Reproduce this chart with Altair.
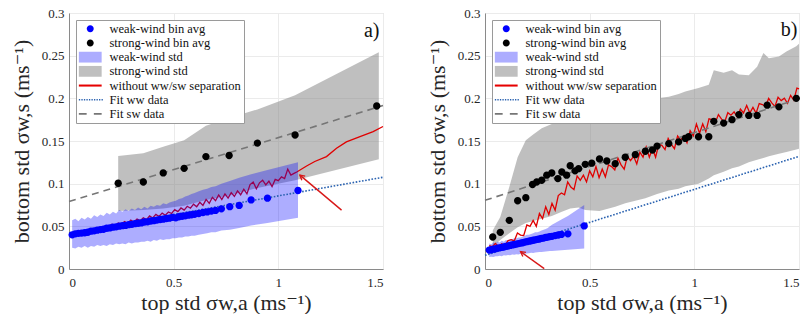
import altair as alt
import pandas as pd

FONT = "Liberation Serif, Times New Roman, DejaVu Serif, Noto Serif, serif"

SERIES = ["weak-wind bin avg", "strong-wind bin avg", "weak-wind std", "strong-wind std",
          "without ww/sw separation", "Fit ww data", "Fit sw data"]
COLORS = ["#0000ff", "#000000", "rgba(0,0,255,0.32)", "rgba(128,128,128,0.5)",
          "#e60000", "#2a62b0", "#767676"]
RED = "#e00000"
ARROW_RED = "#d81818"

X_TICKS = [0, 0.5, 1, 1.5]
Y_TICKS = [0, 0.05, 0.1, 0.15, 0.2, 0.25, 0.3]
X_TITLE = "top std σw,a (ms⁻¹)"
Y_TITLE = "bottom std σw,s (ms⁻¹)"

# ---------------- panel a ----------------
a_ww_x = [0.015, 0.03, 0.045, 0.06, 0.075, 0.09, 0.105, 0.12, 0.135, 0.15,
          0.165, 0.18, 0.195, 0.21, 0.225, 0.24, 0.255, 0.27, 0.285, 0.30,
          0.315, 0.33, 0.345, 0.36, 0.375, 0.39, 0.405, 0.42, 0.435, 0.45,
          0.465, 0.48, 0.495, 0.51, 0.525, 0.54, 0.555, 0.57, 0.585, 0.60,
          0.62, 0.64, 0.66, 0.68, 0.70, 0.728, 0.768, 0.813, 0.87, 0.948, 1.094]
a_ww_y = [0.0400, 0.0412, 0.0418, 0.0421, 0.0425, 0.0431, 0.0443, 0.0447, 0.0455, 0.0462,
          0.0466, 0.0478, 0.0481, 0.0490, 0.0494, 0.0502, 0.0508, 0.0511, 0.0520, 0.0523,
          0.0531, 0.0536, 0.0540, 0.0551, 0.0553, 0.0562, 0.0566, 0.0573, 0.0580, 0.0584,
          0.0592, 0.0596, 0.0605, 0.0600, 0.0612, 0.0618, 0.0623, 0.0631, 0.0636, 0.0642,
          0.0650, 0.0662, 0.0669, 0.0679, 0.0687, 0.0705, 0.0730, 0.0745, 0.0810, 0.0830, 0.0920]
a_ww_hi = [0.057, 0.059, 0.056, 0.060, 0.058, 0.061, 0.059, 0.063, 0.061, 0.064,
           0.062, 0.066, 0.064, 0.067, 0.065, 0.069, 0.067, 0.070, 0.068, 0.071,
           0.069, 0.072, 0.070, 0.073, 0.071, 0.074, 0.073, 0.075, 0.074, 0.077,
           0.076, 0.078, 0.079, 0.080, 0.082, 0.083, 0.085, 0.086, 0.088, 0.089,
           0.091, 0.093, 0.094, 0.096, 0.097, 0.100, 0.103, 0.107, 0.111, 0.116, 0.125]
a_ww_lo = [0.025, 0.024, 0.026, 0.025, 0.027, 0.025, 0.027, 0.026, 0.028, 0.027,
           0.028, 0.027, 0.029, 0.028, 0.030, 0.029, 0.030, 0.029, 0.031, 0.030,
           0.031, 0.031, 0.032, 0.032, 0.033, 0.032, 0.034, 0.033, 0.035, 0.034,
           0.035, 0.035, 0.036, 0.036, 0.037, 0.037, 0.038, 0.038, 0.039, 0.039,
           0.040, 0.041, 0.042, 0.043, 0.043, 0.045, 0.046, 0.048, 0.051, 0.054, 0.060]

a_sw_x = [0.235, 0.355, 0.45, 0.55, 0.654, 0.765, 0.9, 1.08, 1.47]
a_sw_y = [0.1005, 0.102, 0.1126, 0.118, 0.1317, 0.133, 0.1476, 0.157, 0.191]
a_swband_x = [0.235, 0.355, 0.45, 0.55, 0.654, 0.765, 0.9, 1.08, 1.48]
a_sw_hi = [0.1325, 0.1356, 0.1434, 0.151, 0.168, 0.177, 0.187, 0.2037, 0.254]
a_sw_lo = [0.068, 0.069, 0.071, 0.074, 0.081, 0.086, 0.095, 0.104, 0.1285]

a_red_x = [0.010, 0.025, 0.040, 0.055, 0.070, 0.085, 0.100, 0.115, 0.130, 0.145,
           0.160, 0.175, 0.190, 0.205, 0.220, 0.235, 0.250, 0.265, 0.280, 0.295,
           0.310, 0.325, 0.340, 0.355, 0.370, 0.385, 0.400, 0.415, 0.430, 0.445,
           0.460, 0.475, 0.490, 0.505, 0.520, 0.535, 0.550, 0.565, 0.580, 0.595,
           0.610, 0.625, 0.640, 0.655, 0.670, 0.685, 0.700, 0.715, 0.730, 0.745,
           0.760, 0.775, 0.790, 0.805, 0.820, 0.835, 0.850, 0.865, 0.880, 0.895,
           0.910, 0.925, 0.940, 0.955, 0.970, 0.985, 1.000, 1.015, 1.030, 1.045,
           1.060, 1.075, 1.090,
           1.135, 1.174, 1.230, 1.278, 1.325, 1.390, 1.453, 1.500]
a_red_y = [0.0405, 0.0420, 0.0412, 0.0436, 0.0425, 0.0398, 0.0445, 0.0462, 0.0448, 0.0485,
           0.0470, 0.0502, 0.0495, 0.0525, 0.0508, 0.0540, 0.0522, 0.0556, 0.0535, 0.0572,
           0.0550, 0.0585, 0.0566, 0.0600, 0.0579, 0.0622, 0.0598, 0.0640, 0.0615, 0.0655,
           0.0630, 0.0668, 0.0650, 0.0695, 0.0672, 0.0715, 0.0690, 0.0735, 0.0712, 0.0760,
           0.0730, 0.0782, 0.0745, 0.0815, 0.0770, 0.0840, 0.0800, 0.0868, 0.0815, 0.0880,
           0.0830, 0.0895, 0.0850, 0.0915, 0.0870, 0.0935, 0.0880, 0.0990, 0.1020, 0.0940,
           0.1010, 0.1040, 0.0985, 0.1030, 0.0965, 0.1050, 0.1035, 0.1080, 0.1060, 0.1170,
           0.1100, 0.1120, 0.1140,
           0.1207, 0.1260, 0.1317, 0.1415, 0.1490, 0.1550, 0.1610, 0.1670]

a_fitww_x = [0, 1.5]
a_fitww_y = [0.042, 0.1075]
a_fitsw_x = [0, 1.5]
a_fitsw_y = [0.079, 0.1915]

a_arrow_x = [1.302, 1.103]
a_arrow_y = [0.069, 0.110]
a_label = ["a)"]
a_label_x = [1.483]
a_label_y = [0.2785]

# ---------------- panel b ----------------
b_ww_x = [0.020, 0.030, 0.040, 0.050, 0.060, 0.070, 0.080, 0.090, 0.100, 0.110,
          0.120, 0.130, 0.140, 0.150, 0.160, 0.170, 0.180, 0.190, 0.200, 0.210,
          0.220, 0.230, 0.240, 0.250, 0.260, 0.270, 0.280, 0.290, 0.300, 0.310,
          0.320, 0.335, 0.350, 0.365, 0.396, 0.474]
b_ww_y = [0.0222, 0.0226, 0.0232, 0.0236, 0.0245, 0.0248, 0.0254, 0.0258, 0.0266, 0.0270,
          0.0276, 0.0282, 0.0287, 0.0292, 0.0298, 0.0304, 0.0308, 0.0315, 0.0320, 0.0326,
          0.0331, 0.0337, 0.0342, 0.0348, 0.0352, 0.0359, 0.0362, 0.0370, 0.0374, 0.0380,
          0.0383, 0.0392, 0.0398, 0.0405, 0.0412, 0.0505]
b_ww_hi = [0.030, 0.029, 0.031, 0.030, 0.032, 0.031, 0.033, 0.032, 0.034, 0.033,
           0.035, 0.035, 0.036, 0.036, 0.037, 0.037, 0.038, 0.039, 0.040, 0.040,
           0.041, 0.042, 0.043, 0.043, 0.044, 0.045, 0.046, 0.047, 0.048, 0.050,
           0.052, 0.054, 0.056, 0.058, 0.062, 0.075]
b_ww_lo = [0.014, 0.0145, 0.014, 0.015, 0.0148, 0.0155, 0.015, 0.016, 0.0158, 0.0165,
           0.016, 0.017, 0.0168, 0.0172, 0.017, 0.0178, 0.0175, 0.018, 0.0183, 0.0186,
           0.019, 0.0188, 0.0193, 0.0195, 0.0198, 0.020, 0.0203, 0.0205, 0.0208, 0.021,
           0.0212, 0.0215, 0.0218, 0.022, 0.0225, 0.024]

b_sw_x = [0.037, 0.073, 0.116, 0.156, 0.195, 0.227, 0.247, 0.271, 0.295, 0.319,
          0.348, 0.367, 0.39, 0.407, 0.43, 0.447, 0.479, 0.51, 0.547, 0.582,
          0.622, 0.67, 0.718, 0.766, 0.80, 0.822, 0.878, 0.925, 0.957, 0.973,
          1.02, 1.069, 1.093, 1.14, 1.18, 1.213, 1.26, 1.30, 1.348, 1.404, 1.487]
b_sw_y = [0.0375, 0.043, 0.057, 0.080, 0.0836, 0.099, 0.102, 0.104, 0.110, 0.1125,
          0.106, 0.1137, 0.110, 0.121, 0.115, 0.1176, 0.1227, 0.124, 0.129, 0.1266,
          0.1234, 0.131, 0.134, 0.138, 0.1395, 0.144, 0.147, 0.149, 0.153, 0.155,
          0.155, 0.155, 0.173, 0.171, 0.175, 0.181, 0.180, 0.180, 0.192, 0.190, 0.200]
b_swband_x = [0.037, 0.073, 0.116, 0.156, 0.195, 0.227, 0.271, 0.319, 0.367, 0.407,
              0.447, 0.479, 0.547, 0.622, 0.67, 0.718, 0.766, 0.822, 0.878, 0.925,
              0.957, 1.02, 1.069, 1.093, 1.14, 1.18, 1.213, 1.26, 1.30, 1.33,
              1.356, 1.404, 1.44, 1.487, 1.5]
b_sw_hi = [0.045, 0.061, 0.096, 0.131, 0.151, 0.157, 0.165, 0.170, 0.170, 0.180,
           0.172, 0.176, 0.184, 0.190, 0.193, 0.195, 0.198, 0.200, 0.202, 0.205,
           0.208, 0.212, 0.216, 0.233, 0.230, 0.233, 0.228, 0.227, 0.237, 0.253,
           0.247, 0.249, 0.255, 0.261, 0.264]
b_sw_lo = [0.026, 0.034, 0.042, 0.049, 0.054, 0.056, 0.059, 0.062, 0.067, 0.071,
           0.072, 0.069, 0.068, 0.073, 0.077, 0.080, 0.083, 0.088, 0.092, 0.094,
           0.097, 0.100, 0.106, 0.110, 0.114, 0.118, 0.120, 0.125, 0.128, 0.130,
           0.132, 0.135, 0.137, 0.140, 0.141]

b_red_x = [0.020, 0.035, 0.050, 0.065, 0.080, 0.095, 0.110, 0.125, 0.140, 0.155,
           0.170, 0.185, 0.200, 0.215, 0.230, 0.245, 0.260, 0.275, 0.290, 0.305,
           0.320, 0.335, 0.350, 0.365, 0.380, 0.395, 0.410, 0.425, 0.440, 0.455,
           0.470, 0.485, 0.500, 0.515, 0.530, 0.545, 0.560, 0.575, 0.590, 0.605,
           0.620, 0.635, 0.650, 0.665, 0.680, 0.695, 0.710, 0.725, 0.740, 0.755,
           0.770, 0.785, 0.800, 0.815, 0.830, 0.845, 0.860, 0.875, 0.890, 0.905,
           0.920, 0.935, 0.950, 0.965, 0.980, 0.995, 1.010, 1.025, 1.040, 1.055,
           1.070, 1.085, 1.100, 1.115, 1.130, 1.145, 1.160, 1.175, 1.190, 1.205,
           1.220, 1.235, 1.250, 1.265, 1.280, 1.295, 1.310, 1.325, 1.340, 1.355,
           1.370, 1.385, 1.400, 1.415, 1.430, 1.445, 1.460, 1.475, 1.490, 1.500]
b_red_y = [0.0275, 0.0261, 0.0299, 0.0262, 0.0296, 0.0273, 0.0332, 0.0343, 0.0330, 0.0422,
           0.0398, 0.0392, 0.0516, 0.0500, 0.0570, 0.0500, 0.0650, 0.0590, 0.0730, 0.0640,
           0.0770, 0.0690, 0.0860, 0.0890, 0.0870, 0.1020, 0.0960, 0.0930, 0.1090, 0.1040,
           0.1100, 0.1020, 0.1150, 0.1080, 0.1200, 0.1070, 0.1170, 0.1080, 0.1220, 0.1200,
           0.1160, 0.1300, 0.1220, 0.1170, 0.1320, 0.1270, 0.1320, 0.1230, 0.1370, 0.1310,
           0.1430, 0.1310, 0.1410, 0.1310, 0.1460, 0.1450, 0.1400, 0.1530, 0.1460, 0.1410,
           0.1560, 0.1510, 0.1560, 0.1480, 0.1620, 0.1560, 0.1700, 0.1590, 0.1700, 0.1610,
           0.1760, 0.1750, 0.1715, 0.1809, 0.1756, 0.1724, 0.1832, 0.1803, 0.1841, 0.1781,
           0.1875, 0.1829, 0.1916, 0.1828, 0.1894, 0.1827, 0.1938, 0.1927, 0.1905, 0.1999,
           0.1946, 0.1904, 0.2012, 0.1973, 0.2001, 0.1941, 0.2035, 0.1979, 0.2120, 0.2110]

b_fitww_x = [0, 1.5]
b_fitww_y = [0.016, 0.132]
b_fitsw_x = [0, 1.5]
b_fitsw_y = [0.0805, 0.1995]

b_arrow_x = [0.283, 0.170]
b_arrow_y = [0.0005, 0.0203]
b_label = ["b)"]
b_label_x = [1.492]
b_label_y = [0.2805]

# ---------------- styling (legend symbols, unit = half of sqrt(symbolSize)) ----------------
CIRCLE = "M0.58,0A0.58,0.58,0,1,1,-0.58,0A0.58,0.58,0,1,1,0.58,0Z"
RECT = "M-1.9,-0.9H1.9V0.9H-1.9Z"
SOLID = "M-1.9,-0.17H1.9V0.17H-1.9Z"
DOTTED = "".join(f"M{-1.9 + i * 0.42:.3f},-0.13h0.22v0.26h-0.22Z" for i in range(10))
DASHED = "M-1.9,-0.15H-0.6V0.15H-1.9ZM0.6,-0.15H1.9V0.15H0.6Z"
SHAPES = [CIRCLE, CIRCLE, RECT, RECT, SOLID, DOTTED, DASHED]
ARROW_HEAD = "M-0.5,0.9L0,0L0.5,0.9"

for a, b in [(a_ww_x, a_ww_y), (a_ww_x, a_ww_hi), (a_ww_x, a_ww_lo), (a_sw_x, a_sw_y),
             (a_swband_x, a_sw_hi), (a_swband_x, a_sw_lo), (a_red_x, a_red_y),
             (b_ww_x, b_ww_y), (b_ww_x, b_ww_hi), (b_ww_x, b_ww_lo), (b_sw_x, b_sw_y),
             (b_swband_x, b_sw_hi), (b_swband_x, b_sw_lo), (b_red_x, b_red_y)]:
    assert len(a) == len(b), (len(a), len(b))

LEGEND = alt.Legend(orient="top-left", offset=7, padding=2.5, title=None,
                    fillColor="white", strokeColor="#9a9a9a",
                    labelFont=FONT, labelFontSize=12.5, labelColor="#111111",
                    labelOffset=13, labelLimit=400, symbolSize=144, symbolOffset=5.5,
                    symbolStrokeWidth=0, symbolOpacity=1, rowPadding=1.2)

X_SCALE = alt.Scale(domain=[0, 1.5], nice=False, zero=False)
Y_SCALE = alt.Scale(domain=[0, 0.3], nice=False, zero=False)
X_AXIS = alt.Axis(values=X_TICKS, format="~g", title=X_TITLE)
Y_AXIS = alt.Axis(values=Y_TICKS, format="~g", title=Y_TITLE)


def xy(x, y, name=""):
    return pd.DataFrame({"x": x, "y": y, "series": name})


def band(x, lo, hi, name):
    return pd.DataFrame({"x": x, "lo": lo, "hi": hi, "series": name})


def panel(ww_x, ww_y, ww_hi, ww_lo, sw_x, sw_y, swb_x, sw_hi, sw_lo,
          red_x, red_y, fww_x, fww_y, fsw_x, fsw_y, arr_x, arr_y, angle,
          lab, lab_x, lab_y, red_over_blue):
    X = alt.X("x:Q", scale=X_SCALE, axis=X_AXIS)
    Y = alt.Y("y:Q", scale=Y_SCALE, axis=Y_AXIS)
    color = alt.Color("series:N", scale=alt.Scale(domain=SERIES, range=COLORS), legend=LEGEND)

    grey = alt.Chart(band(swb_x, sw_lo, sw_hi, SERIES[3])).mark_area().encode(
        x=X, y=alt.Y("hi:Q", scale=Y_SCALE, axis=Y_AXIS), y2="lo:Q", color=color)
    blue = alt.Chart(band(ww_x, ww_lo, ww_hi, SERIES[2])).mark_area().encode(
        x=X, y=alt.Y("hi:Q", scale=Y_SCALE, axis=Y_AXIS), y2="lo:Q", color=color)
    red = alt.Chart(xy(red_x, red_y)).mark_line(color=RED, strokeWidth=1.3).encode(x=X, y=Y)
    fww = alt.Chart(xy(fww_x, fww_y)).mark_line(
        color=COLORS[5], strokeWidth=1.6, strokeDash=[1.6, 1.6]).encode(x=X, y=Y)
    fsw = alt.Chart(xy(fsw_x, fsw_y)).mark_line(
        color=COLORS[6], strokeWidth=1.6, strokeDash=[7, 5]).encode(x=X, y=Y)
    pts = pd.concat([xy(ww_x, ww_y, SERIES[0]), xy(sw_x, sw_y, SERIES[1])])
    points = alt.Chart(pts).mark_point(filled=True, size=160, opacity=1, strokeWidth=0).encode(
        x=X, y=Y, color=color,
        shape=alt.Shape("series:N", scale=alt.Scale(domain=SERIES, range=SHAPES), legend=LEGEND))
    arrow = alt.Chart(xy(arr_x, arr_y)).mark_line(color=ARROW_RED, strokeWidth=1.4).encode(
        x=X, y=Y, order=alt.Order("x:Q", sort="descending"))
    head = alt.Chart(xy(arr_x[1:], arr_y[1:])).mark_point(
        shape=ARROW_HEAD, filled=False, size=110, angle=angle, color=ARROW_RED,
        strokeWidth=1.4, opacity=1).encode(x=X, y=Y)
    text = alt.Chart(pd.DataFrame({"x": lab_x, "y": lab_y, "t": lab})).mark_text(
        font=FONT, fontSize=20, align="right", baseline="middle", color="#111111").encode(
        x=X, y=Y, text="t:N")
    if red_over_blue:
        layers = [grey, blue, red]
    else:
        layers = [grey, red, blue]
    return alt.layer(*layers, fww, fsw, points, arrow, head, text).properties(width=314, height=256)


pa = panel(a_ww_x, a_ww_y, a_ww_hi, a_ww_lo, a_sw_x, a_sw_y, a_swband_x, a_sw_hi, a_sw_lo,
           a_red_x, a_red_y, a_fitww_x, a_fitww_y, a_fitsw_x, a_fitsw_y,
           a_arrow_x, a_arrow_y, 310, a_label, a_label_x, a_label_y, False)
pb = panel(b_ww_x, b_ww_y, b_ww_hi, b_ww_lo, b_sw_x, b_sw_y, b_swband_x, b_sw_hi, b_sw_lo,
           b_red_x, b_red_y, b_fitww_x, b_fitww_y, b_fitsw_x, b_fitsw_y,
           b_arrow_x, b_arrow_y, 306, b_label, b_label_x, b_label_y, True)

chart = alt.hconcat(pa, pb, spacing=38).resolve_legend(
    color="independent", shape="independent"
).properties(
    padding={"left": 9, "top": 6, "right": 0, "bottom": 0},
    background="white",
).configure_axis(
    labelFont=FONT, titleFont=FONT, labelFontSize=13, titleFontSize=22,
    titleFontWeight="normal", labelColor="#262626", titleColor="#262626",
    gridColor="#ebebeb", domainColor="#8a8a8a", ticks=False, labelPadding=5,
).configure_axisX(titlePadding=3, labelPadding=7).configure_axisY(titlePadding=8).configure_view(
    stroke="#d8d8d8", strokeWidth=1)

chart.save("out.html", embed_options={"renderer": "svg", "actions": False})
